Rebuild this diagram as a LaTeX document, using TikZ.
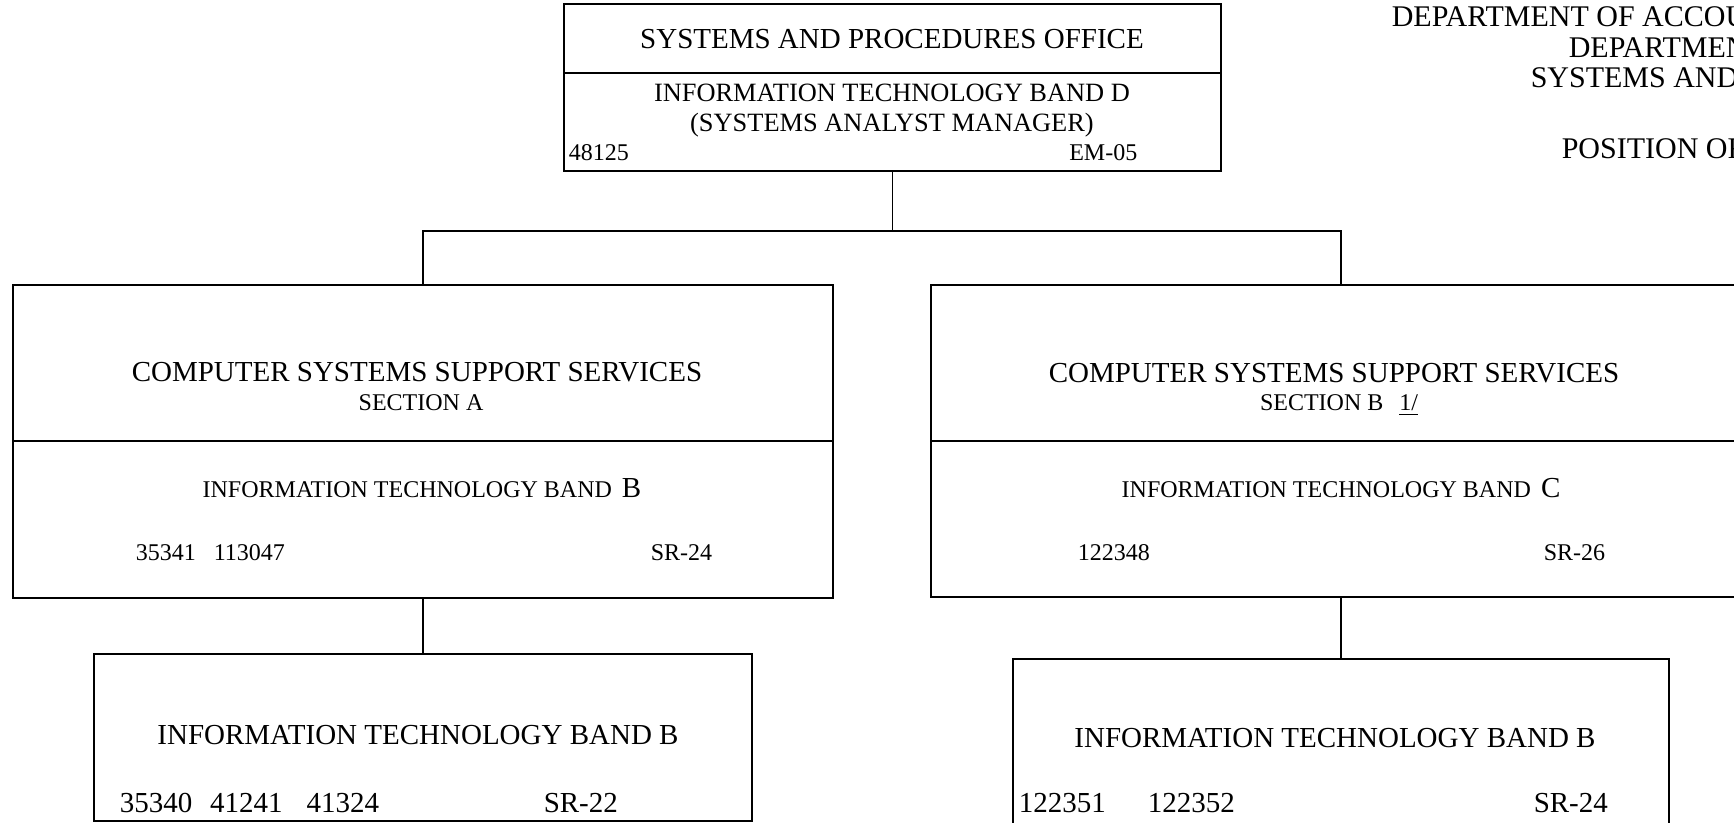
\documentclass[tikz,border=0pt]{standalone}
\usepackage{fontspec}
\setmainfont{Liberation Serif}
\usetikzlibrary{positioning}

\newcommand{\bigsz}{\fontsize{14.5}{17}\selectfont}
\newcommand{\midsz}{\fontsize{13.2}{15}\selectfont}
\newcommand{\smallsz}{\fontsize{12}{14}\selectfont}

\begin{document}
\begin{tikzpicture}[x=0.5pt,y=-0.5pt,line width=0.75pt,
        box/.style={draw,rectangle,inner sep=0pt,outer sep=0pt,minimum width=#1},
        box/.default=410pt,
        big/.style={font=\bigsz,inner sep=0pt,anchor=base},
        mid/.style={font=\midsz,inner sep=0pt,anchor=base},
        small/.style={font=\smallsz,inner sep=0pt,anchor=base},
        head/.style={font=\fontsize{15}{17}\selectfont,inner sep=0pt,anchor=base west}]

    \useasboundingbox (0,0) rectangle (1734,823);

    % heading (cut at the page edge)
    \node[head] (dept1) at (1391,27) {DEPARTMENT OF ACCOU};
    \node[head] (dept2) at (1568,58) {DEPARTMEN};
    \node[head] (dept3) at (1530,88) {SYSTEMS AND};
    \node[head] (dept4) at (1561,159) {POSITION OR};

    % boxes
    \node[box=328.5pt,minimum height=34.5pt] (spo) at (892.5,38.5) {};
    \node[box=328.5pt,minimum height=49pt] (spoband) [below=0pt of spo] {};
    \node[box,minimum height=78pt] (csa) at (423,363) {};
    \node[box,minimum height=78.5pt] (csaband) [below=0pt of csa] {};
    \node[box,minimum height=78pt] (csb) at (1341,363) {};
    \node[box,minimum height=78pt] (csbband) [below=0pt of csb] {};
    \node[box=329pt,minimum height=83.5pt] (itbl) [below=28pt of csaband] {};
    \node[box=328pt,minimum height=86pt] (itbr) [below=31pt of csbband] {};

    % texts
    \node[big] (spotitle) at (892,49) {SYSTEMS AND PROCEDURES OFFICE};
    \node[mid] (spoband1) at (892,102) {INFORMATION TECHNOLOGY BAND D};
    \node[mid] (spoband2) at (892,132) {(SYSTEMS ANALYST MANAGER)};
    \node[small,anchor=base west] (sponum) at (568,161) {48125};
    \node[small,anchor=base east] (spogr) at (1138,161) {EM-05};

    \node[big] (csatitle) at (417,382) {COMPUTER SYSTEMS SUPPORT SERVICES};
    \node[small] (csasec) at (421,411) {SECTION A};
    \node[small] (csaband1) at (422,497) {INFORMATION TECHNOLOGY BAND\hspace{5pt}{\bigsz B}};
    \node[small,anchor=base west] (csanum) at (135,560) {35341\hspace{9pt}113047};
    \node[small,anchor=base west] (csagr) at (650,560) {SR-24};

    \node[big] (csbtitle) at (1334,383) {COMPUTER SYSTEMS SUPPORT SERVICES};
    \node[small] (csbsec) at (1339,411) {SECTION B\hspace{8pt}\underline{1/}};
    \node[small] (csbband1) at (1341,497) {INFORMATION TECHNOLOGY BAND\hspace{5pt}{\bigsz C}};
    \node[small,anchor=base west] (csbnum) at (1077,560) {122348};
    \node[small,anchor=base west] (csbgr) at (1543,560) {SR-26};

    \node[big] (itbltitle) at (418,744) {INFORMATION TECHNOLOGY BAND B};
    \node[big,anchor=base west] (itblnum) at (119,812) {35340\hspace{9pt}41241\hspace{12pt}41324};
    \node[big,anchor=base west] (itblgr) at (543,812) {SR-22};

    \node[big] (itbrtitle) at (1335,747) {INFORMATION TECHNOLOGY BAND B};
    \node[big,anchor=base west] (itbrnum) at (1018,812) {122351\hspace{21pt}122352};
    \node[big,anchor=base west] (itbrgr) at (1533,812) {SR-24};

    % lines
    \coordinate (bus) at (892.5,231);
    \draw (spoband.south) -- (bus);
    \draw (csa.north) |- (bus) -| (csb.north);
    \draw (csaband.south) -- (itbl.north);
    \draw (csbband.south) -- (itbr.north);
\end{tikzpicture}
\end{document}
